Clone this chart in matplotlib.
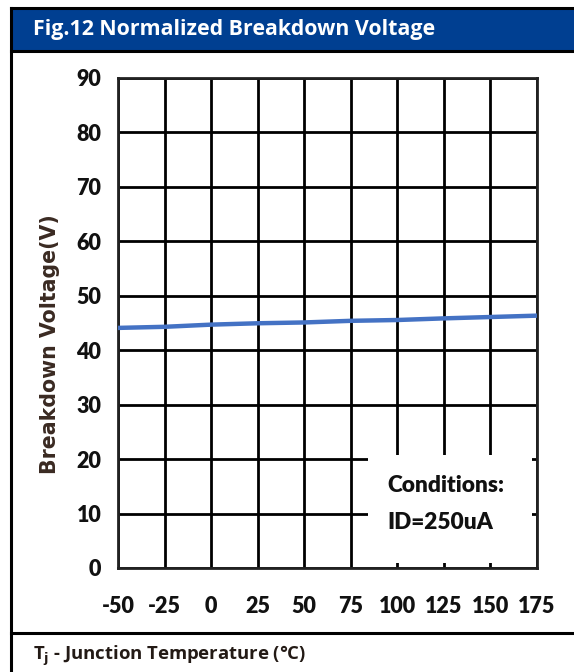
"""Fig.12 Normalized Breakdown Voltage - recreated chart"""
import matplotlib
matplotlib.use('Agg')
import matplotlib.pyplot as plt
from matplotlib.patches import Rectangle
from matplotlib.lines import Line2D

plt.rcParams['axes.unicode_minus'] = False

# Data
temps = [-50, -25, 0, 25, 50, 75, 100, 125, 150, 175]
bv = [44.1, 44.3, 44.7, 44.95, 45.1, 45.4, 45.55, 45.85, 46.1, 46.35]
x_ticks = [-50, -25, 0, 25, 50, 75, 100, 125, 150, 175]
y_ticks = [0, 10, 20, 30, 40, 50, 60, 70, 80, 90]

W, H = 574, 672
fig = plt.figure(figsize=(W / 100, H / 100), dpi=100)
fig.patch.set_facecolor('white')

def fx(px):
    return px / W

def fy(py):
    return 1 - py / H

# header band and frame
fig.patches.append(Rectangle((fx(11), fy(51)), fx(W - 11) + 0.01, fy(8) - fy(51),
                             transform=fig.transFigure, facecolor='#003f91',
                             edgecolor='none', zorder=0))
frame_kw = dict(transform=fig.transFigure, color='black', linewidth=2.2)
fig.lines.append(Line2D([fx(11), 1.0], [fy(8), fy(8)], **frame_kw))
fig.lines.append(Line2D([fx(11), fx(11)], [0, fy(8)], **frame_kw))
fig.lines.append(Line2D([fx(11), 1.0], [fy(51), fy(51)], **frame_kw))
fig.lines.append(Line2D([fx(11), 1.0], [fy(633), fy(633)], **frame_kw))

fig.text(fx(33), fy(29), 'Fig.12 Normalized Breakdown Voltage', color='white',
         fontsize=15.4, fontweight='bold', family='Open Sans', va='center', ha='left')
fig.text(fx(33), fy(656), r'T$_\mathbf{j}$ - Junction Temperature (°C)', color='#231a15',
         fontsize=13.3, fontweight='bold', family='Open Sans', va='center', ha='left')

ax = fig.add_axes([fx(118), fy(568), fx(537) - fx(118), fy(78) - fy(568)])
ax.set_xlim(-50, 175)
ax.set_ylim(0, 90)
ax.set_xticks(x_ticks)
ax.set_yticks(y_ticks)
ax.grid(True, color='black', linewidth=2.0, zorder=1)
ax.set_axisbelow(True)
ax.tick_params(length=0, labelsize=15.5)
ax.tick_params(axis='y', pad=12)
ax.tick_params(axis='x', pad=20)
for lbl in ax.get_xticklabels() + ax.get_yticklabels():
    lbl.set_fontweight(800)
    lbl.set_family('Lato')
    lbl.set_color('#111111')
for s in ax.spines.values():
    s.set_linewidth(2.0)
    s.set_color('#222222')

ax.plot(temps, bv, color='#4472c4', linewidth=3.2, zorder=3)

# conditions box
ax.add_patch(Rectangle((84, 0.9), 88.5, 19.9, facecolor='white', edgecolor='none', zorder=2))
ax.text(94.5, 15.2, 'Conditions:', fontsize=16.3, fontweight=800, family='Lato',
        color='#111111', va='center', zorder=4)
ax.text(94.5, 8.4, 'ID=250uA', fontsize=16.3, fontweight=800, family='Lato',
        color='#111111', va='center', zorder=4)

ax.set_ylabel('Breakdown Voltage(V)', fontsize=14.8, fontweight='bold', family='DejaVu Sans',
              color='#3a2a22', labelpad=12, y=0.457)

fig.savefig('out.png', dpi=100)
